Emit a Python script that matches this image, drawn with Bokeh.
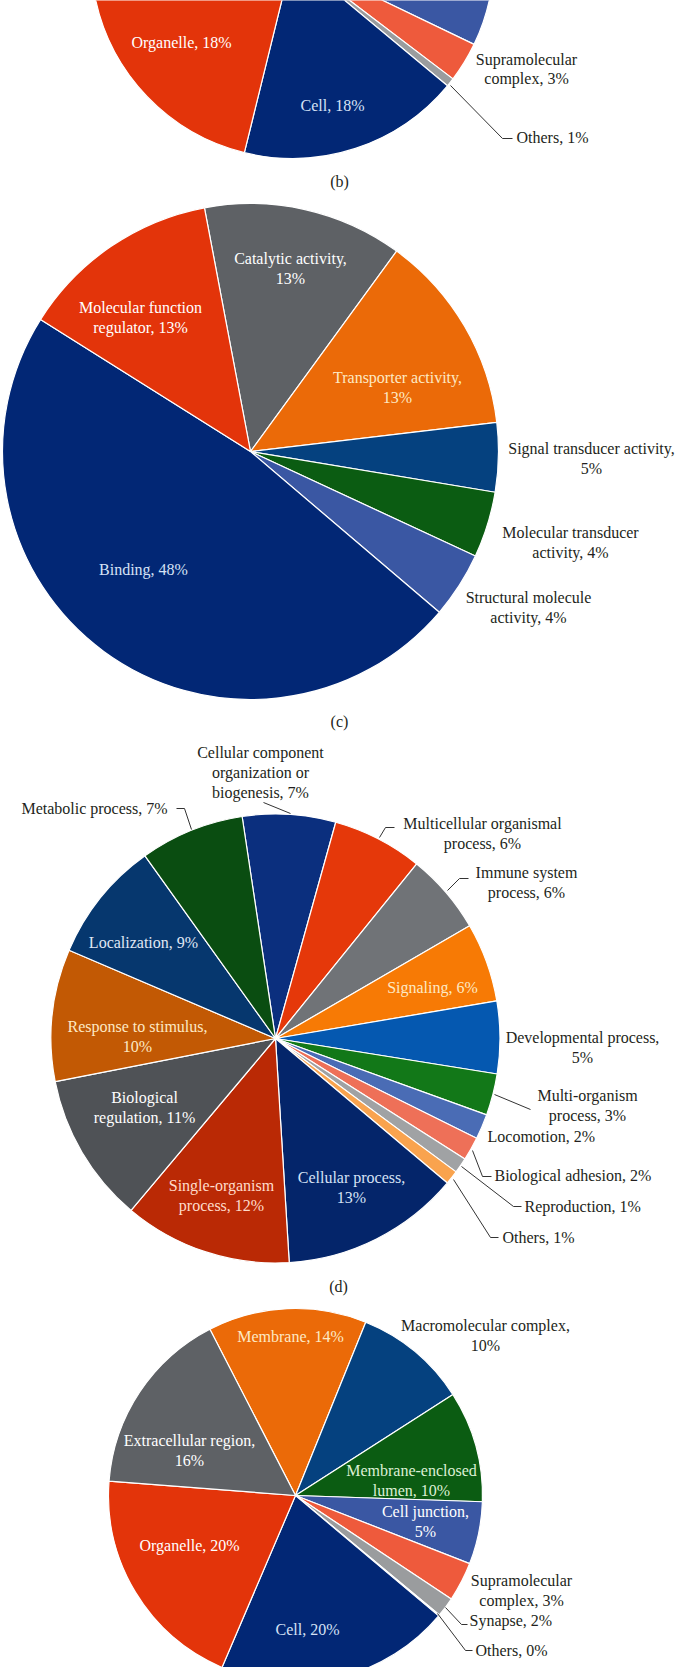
import math
from bokeh.plotting import figure
from bokeh.models import Range1d, ColumnDataSource
from bokeh.core.properties import value
from bokeh.embed import file_html
from bokeh.resources import INLINE

# ---------------- data ----------------
b_categories = ["Membrane", "Macromolecular complex", "Membrane-enclosed lumen", "Cell junction",
                "Supramolecular complex", "Others", "Cell", "Organelle", "Extracellular region"]
b_values = [15.0, 12.0, 11.0, 6.0, 3.2, 0.7, 17.8, 18.0, 16.3]
b_pct = [15, 12, 11, 6, 3, 1, 18, 18, 16]

c_categories = ["Catalytic activity", "Transporter activity", "Signal transducer activity",
                "Molecular transducer activity", "Structural molecule activity", "Binding",
                "Molecular function regulator"]
c_values = [13.0, 13.1, 4.5, 4.3, 4.3, 47.7, 13.1]
c_pct = [13, 13, 5, 4, 4, 48, 13]

d_categories = ["Cellular component organization or biogenesis", "Multicellular organismal process",
                "Immune system process", "Signaling", "Developmental process", "Multi-organism process",
                "Locomotion", "Biological adhesion", "Reproduction", "Others", "Cellular process",
                "Single-organism process", "Biological regulation", "Response to stimulus",
                "Localization", "Metabolic process"]
d_values = [6.7, 6.5, 5.8, 5.7, 5.2, 3.0, 1.8, 1.7, 1.1, 1.0, 12.9, 12.1, 10.8, 9.5, 8.7, 7.5]
d_pct = [7, 6, 6, 6, 5, 3, 2, 2, 1, 1, 13, 12, 11, 10, 9, 7]

e_categories = ["Membrane", "Macromolecular complex", "Membrane-enclosed lumen", "Cell junction",
                "Supramolecular complex", "Synapse", "Others", "Cell", "Organelle", "Extracellular region"]
e_values = [13.7, 9.8, 9.6, 5.4, 3.4, 1.7, 0.1, 20.3, 19.8, 16.2]
e_pct = [14, 10, 10, 5, 3, 2, 0, 20, 20, 16]

panel_labels = ["(b)", "(c)", "(d)"]

# ---------------- styles ----------------
NAVY = "#022775"; RED = "#E3340A"; GREY = "#5E6165"; ORANGE = "#EB6A08"
DBLUE = "#05417F"; GREEN = "#0B5C12"; MBLUE = "#3A57A3"; SALMON = "#EE5A3C"; LGREY = "#9A9C9E"

b_colors = [ORANGE, DBLUE, GREEN, MBLUE, SALMON, LGREY, NAVY, RED, GREY]
c_colors = [GREY, ORANGE, DBLUE, GREEN, MBLUE, NAVY, RED]
d_colors = ["#0B2F7E", "#E5380A", "#707377", "#F77A05", "#0558B0", "#127818", "#4A6CB5",
            "#EE7058", "#A0A2A4", "#F9A34E", "#04256A", "#BA2905", "#4F5256", "#C25904",
            "#06376E", "#0A4D11"]
e_colors = [ORANGE, DBLUE, GREEN, MBLUE, SALMON, LGREY, "#FFFFFF", NAVY, RED, GREY]

W_TXT = "#FFFFFF"; BLUE_TXT = "#D6E2F5"; CREAM_TXT = "#FDE9C4"; BLACK = "#231F20"
PEACH_TXT = "#FFDCCB"; GREEN_TXT = "#DDF0D5"

FONT = value("Liberation Serif")
FS = "16px"
LINE_H = 19.8

# pie layout: center x, center y (page px), radius, start angle (deg clockwise from top)
pies = [
    (b_categories, b_values, b_pct, b_colors, (292, -43.5, 201.5, -42.7)),
    (c_categories, c_values, c_pct, c_colors, (250, 451, 248, -10.7)),
    (d_categories, d_values, d_pct, d_colors, (275, 1038, 224.5, -8.55)),
    (e_categories, e_values, e_pct, e_colors, (295, 1495, 187, -27.25)),
]

# label layout per pie: category -> (x, y of first line, word breaks, align, color)
b_lab = {
    "Organelle": (181, 42, [], "center", W_TXT),
    "Cell": (332, 105, [], "center", BLUE_TXT),
    "Supramolecular complex": (526, 58.5, [1], "center", BLACK),
    "Others": (516, 137, [], "left", BLACK),
}
c_lab = {
    "Molecular function regulator": (140, 307, [2], "center", W_TXT),
    "Catalytic activity": (290, 258, [2], "center", W_TXT),
    "Transporter activity": (397, 377, [2], "center", CREAM_TXT),
    "Binding": (143, 569, [], "center", BLUE_TXT),
    "Signal transducer activity": (591, 448, [3], "center", BLACK),
    "Molecular transducer activity": (570, 532, [2], "center", BLACK),
    "Structural molecule activity": (528, 597, [2], "center", BLACK),
}
d_lab = {
    "Cellular component organization or biogenesis": (260, 752, [2, 2], "center", BLACK),
    "Metabolic process": (94, 808, [], "center", BLACK),
    "Multicellular organismal process": (482, 823, [2], "center", BLACK),
    "Immune system process": (526, 872, [2], "center", BLACK),
    "Localization": (143, 942, [], "center", "#E0E8F5"),
    "Response to stimulus": (137, 1026, [3], "center", CREAM_TXT),
    "Biological regulation": (144, 1097, [1], "center", W_TXT),
    "Single-organism process": (221, 1185, [1], "center", PEACH_TXT),
    "Cellular process": (351, 1177, [2], "center", BLUE_TXT),
    "Signaling": (432, 987, [], "center", CREAM_TXT),
    "Developmental process": (582, 1037, [2], "center", BLACK),
    "Multi-organism process": (587, 1095, [1], "center", BLACK),
    "Locomotion": (487, 1136, [], "left", BLACK),
    "Biological adhesion": (494, 1175, [], "left", BLACK),
    "Reproduction": (524, 1206, [], "left", BLACK),
    "Others": (502, 1237, [], "left", BLACK),
}
e_lab = {
    "Membrane": (290, 1336, [], "center", CREAM_TXT),
    "Macromolecular complex": (485, 1325, [2], "center", BLACK),
    "Extracellular region": (189, 1440, [2], "center", W_TXT),
    "Membrane-enclosed lumen": (411, 1470, [1], "center", GREEN_TXT),
    "Cell junction": (425, 1511, [2], "center", W_TXT),
    "Organelle": (189, 1545, [], "center", W_TXT),
    "Cell": (307, 1629, [], "center", BLUE_TXT),
    "Supramolecular complex": (521, 1580, [1], "center", BLACK),
    "Synapse": (469, 1620, [], "left", BLACK),
    "Others": (475, 1650, [], "left", BLACK),
}
labels = [b_lab, c_lab, d_lab, e_lab]

leaders = [
    [(450, 85), (502, 138), (512, 138)],
    [(263, 802), (290, 813)],
    [(176, 808), (184, 808), (191, 829)],
    [(379, 837), (385, 827), (394, 827)],
    [(447, 890), (459, 878), (468, 878)],
    [(494, 1094), (530, 1109)],
    [(472, 1150), (482, 1176), (491, 1176)],
    [(461, 1166), (513, 1206), (521, 1206)],
    [(453, 1179), (490, 1237), (498, 1237)],
    [(445, 1607), (461, 1624), (467, 1624)],
    [(437, 1613), (465, 1650), (472, 1650)],
]
panel_pos = [(339, 181), (339, 721), (338, 1286)]

# ---------------- figure ----------------
W, H = 679, 1667
p = figure(width=W, height=H, output_backend="svg", toolbar_location=None,
           x_range=Range1d(0, W), y_range=Range1d(-H, 0),
           x_axis_type=None, y_axis_type=None, min_border=0)
p.outline_line_color = None
p.grid.visible = False
p.background_fill_color = "white"
p.border_fill_color = "white"


def wedge_angles(vals, start_deg):
    s, e = [], []
    cum = 0.0
    for v in vals:
        a = start_deg + 3.6 * cum
        b = a + 3.6 * v
        s.append(math.radians(90 - b))
        e.append(math.radians(90 - a))
        cum += v
    return s, e


def wrap(text, breaks):
    words = text.split(" ")
    lines, i = [], 0
    for n in breaks:
        lines.append(" ".join(words[i:i + n]))
        i += n
    lines.append(" ".join(words[i:]))
    return lines


for (cats, vals, pct, cols, (cx, cy, r, st)), lab in zip(pies, labels):
    s, e = wedge_angles(vals, st)
    src = ColumnDataSource(dict(x=[cx] * len(vals), y=[-cy] * len(vals), start=s, end=e, color=cols))
    p.wedge(x="x", y="y", radius=r, start_angle="start", end_angle="end", direction="anticlock",
            fill_color="color", line_color="white", line_width=1.2, source=src)
    for align in ("center", "left"):
        tx, ty, tt, tc = [], [], [], []
        for cat, pc in zip(cats, pct):
            if cat not in lab:
                continue
            x, y, br, al, col = lab[cat]
            if al != align:
                continue
            for k, line in enumerate(wrap(f"{cat}, {pc}%", br)):
                tx.append(x); ty.append(-(y + k * LINE_H)); tt.append(line); tc.append(col)
        if tt:
            p.text(x=tx, y=ty, text=tt, text_color=tc, text_font=FONT, text_font_size=FS,
                   text_align=align, text_baseline="middle")

p.multi_line(xs=[[pt[0] for pt in ln] for ln in leaders],
             ys=[[-pt[1] for pt in ln] for ln in leaders],
             line_color="#333333", line_width=1)

p.text(x=[q[0] for q in panel_pos], y=[-q[1] for q in panel_pos], text=panel_labels,
       text_color=BLACK, text_font=FONT, text_font_size=FS, text_align="center", text_baseline="middle")

open("out.html", "w").write(file_html(p, INLINE))
